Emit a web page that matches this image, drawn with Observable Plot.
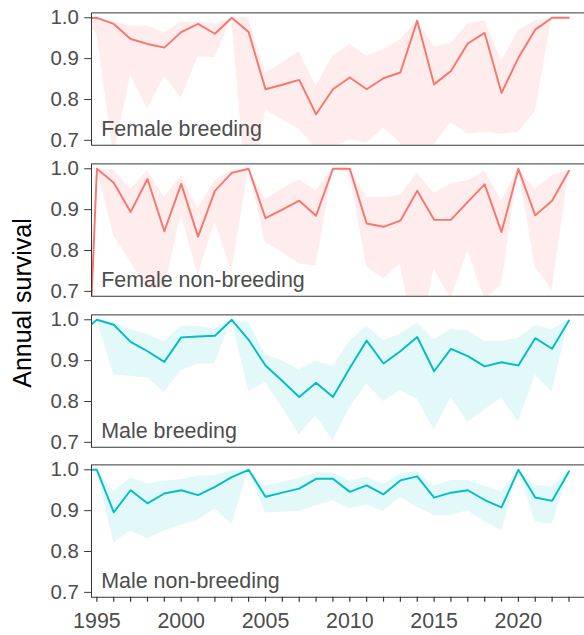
<!DOCTYPE html>
<html><head><meta charset="utf-8">
<script src="https://cdn.jsdelivr.net/npm/d3@7"></script>
<script src="https://cdn.jsdelivr.net/npm/@observablehq/plot@0.6"></script>
<style>
html,body{margin:0;padding:0;background:#fff;overflow:hidden;}
#wrap{position:relative;width:584px;height:635px;overflow:hidden;background:#fff;}
#ytitle{position:absolute;left:22px;top:303px;transform:translate(-50%,-50%) rotate(-90deg);font:25px "Liberation Sans",Arial,sans-serif;white-space:nowrap;color:#000;}
.panel{position:absolute;left:0;}
</style></head><body>
<div id="wrap"><div id="ytitle">Annual survival</div></div>
<script>
const years = [1994,1995,1996,1997,1998,1999,2000,2001,2002,2003,2004,2005,2006,2007,2008,2009,2010,2011,2012,2013,2014,2015,2016,2017,2018,2019,2020,2021,2022,2023];
const panels = ["Female breeding","Female non-breeding","Male breeding","Male non-breeding"];
const sexes = ["Female","Female","Male","Male"];
const yTicks = [0.7,0.8,0.9,1.0];
const xTickYears = years.filter(y => y >= 1995);

// Female breeding
const fbMean = [0.998,1.0,0.985,0.948,0.936,0.927,0.965,0.985,0.961,1.0,0.965,0.825,0.836,0.848,0.764,0.825,0.854,0.825,0.852,0.866,0.993,0.837,0.870,0.937,0.963,0.816,0.902,0.971,1.0,1.0];
const fbLow  = [1.0,0.96,0.66,0.86,0.775,0.857,0.804,0.904,0.902,1.0,0.5,0.775,0.75,0.727,0.68,0.685,0.70,0.693,0.731,0.693,0.55,0.69,0.743,0.715,0.719,0.715,0.719,0.77,1.0,1.0];
const fbHigh = [1.0,1.0,0.99,0.98,0.98,0.963,0.99,0.99,0.985,1.0,1.0,0.864,0.89,0.917,0.833,0.906,0.935,0.906,0.921,0.947,0.993,0.929,0.937,0.985,0.993,0.894,0.969,0.993,1.0,1.0];
// Female non-breeding
const fnMean = [0.0,1.0,0.966,0.894,0.975,0.847,0.963,0.834,0.946,0.99,1.0,0.879,0.9,0.922,0.885,1.0,1.0,0.866,0.858,0.873,0.946,0.875,0.875,0.919,0.962,0.845,1.0,0.886,0.922,0.995];
const fnLow  = [0.0,1.0,0.835,0.771,0.707,0.707,0.887,0.739,0.871,0.747,1.0,0.819,0.795,0.767,0.762,1.0,0.99,0.759,0.731,0.767,0.55,0.755,0.68,0.8,0.68,0.715,1.0,0.759,0.703,0.995];
const fnHigh = [0.0,1.0,0.998,0.95,0.995,0.93,0.983,0.903,0.971,0.995,1.0,0.925,0.951,0.973,0.947,1.0,1.0,0.93,0.93,0.935,0.99,0.94,0.963,0.971,0.994,0.923,1.0,0.95,0.983,0.997];
// Male breeding
const mbMean = [0.965,1.0,0.988,0.946,0.923,0.897,0.957,0.959,0.961,1.0,0.951,0.888,0.85,0.811,0.846,0.811,0.882,0.949,0.893,0.923,0.958,0.874,0.929,0.911,0.886,0.896,0.888,0.955,0.929,0.998];
const mbLow  = [0.95,1.0,0.865,0.862,0.858,0.822,0.876,0.892,0.892,1.0,0.824,0.846,0.785,0.719,0.765,0.704,0.785,0.842,0.8,0.827,0.805,0.73,0.809,0.749,0.779,0.809,0.749,0.865,0.822,1.0];
const mbHigh = [0.98,1.0,0.992,0.976,0.964,0.946,0.984,0.984,0.978,1.0,0.992,0.915,0.899,0.878,0.899,0.886,0.947,0.984,0.949,0.965,0.992,0.951,0.976,0.973,0.947,0.947,0.955,0.986,0.976,1.0];
// Male non-breeding
const mnMean = [1.0,1.0,0.896,0.95,0.918,0.942,0.95,0.938,0.958,0.982,1.0,0.934,0.944,0.954,0.978,0.978,0.946,0.962,0.94,0.974,0.984,0.932,0.944,0.95,0.926,0.908,1.0,0.932,0.924,0.996];
const mnLow  = [1.0,1.0,0.82,0.85,0.832,0.85,0.864,0.876,0.904,0.866,1.0,0.894,0.896,0.898,0.912,0.924,0.904,0.914,0.898,0.932,0.908,0.888,0.888,0.9,0.872,0.85,0.998,0.872,0.866,0.996];
const mnHigh = [1.0,1.0,0.946,0.98,0.966,0.972,0.976,0.984,0.986,0.998,1.0,0.96,0.97,0.978,0.992,0.992,0.972,0.982,0.964,0.99,0.996,0.96,0.974,0.974,0.96,0.946,1.0,0.962,0.958,0.998];

const means = [fbMean, fnMean, mbMean, mnMean];
const lows = [fbLow, fnLow, mbLow, mnLow];
const highs = [fbHigh, fnHigh, mbHigh, mnHigh];
const colors = {Female: "#F8766D", Male: "#00BFC4"};
const ribbonOpacity = {Female: 0.13, Male: 0.11};

const font = '"Liberation Sans", Arial, sans-serif';
const frameH = 136;
const divTops = [9, 160, 311, 461];
const mt = 3.5;

panels.forEach((p, i) => {
  const rows = years.map((yr, j) => ({year: yr, mean: means[i][j], lo: lows[i][j], hi: highs[i][j]}));
  const bottom = i === panels.length - 1;
  const mb = bottom ? 34.5 : 3.5;
  const col = colors[sexes[i]];
  const marks = [
    Plot.areaY(rows, {x: "year", y1: "lo", y2: "hi", fill: col, fillOpacity: ribbonOpacity[sexes[i]], clip: true}),
    Plot.lineY(rows, {x: "year", y: "mean", stroke: col, strokeWidth: 2, clip: true}),
    Plot.frame({stroke: "#333", strokeWidth: 1}),
    Plot.axisY({ticks: yTicks, tickFormat: d3.format(".1f"), tickSize: 7, tickPadding: 6, stroke: "#333", fill: "#4d4d4d", fontSize: 21, label: null}),
    Plot.text([p], {text: d => d, frameAnchor: "bottom-left", dx: 10, dy: -10, textAnchor: "start", lineAnchor: "bottom", fill: "#4d4d4d", fontSize: 22})
  ];
  if (bottom) {
    marks.push(Plot.axisX({ticks: xTickYears, tickFormat: d => d % 5 === 0 ? String(d) : "", tickSize: 5, tickPadding: 11, stroke: "#333", strokeWidth: 1.2, fill: "#4d4d4d", fontSize: 22, label: null}));
  }
  const chart = Plot.plot({
    width: 600,
    height: mt + frameH + mb,
    marginLeft: 93.5,
    marginRight: 0,
    marginTop: mt,
    marginBottom: mb,
    style: {fontFamily: font, background: "transparent", overflow: "visible"},
    x: {domain: [1994.68, 2023.92], label: null, axis: bottom ? undefined : null},
    y: {domain: [0.688, 1.012], label: null},
    marks
  });
  const div = document.createElement("div");
  div.className = "panel";
  div.style.top = divTops[i] + "px";
  div.appendChild(chart);
  document.getElementById("wrap").appendChild(div);
});
</script>
</body></html>
